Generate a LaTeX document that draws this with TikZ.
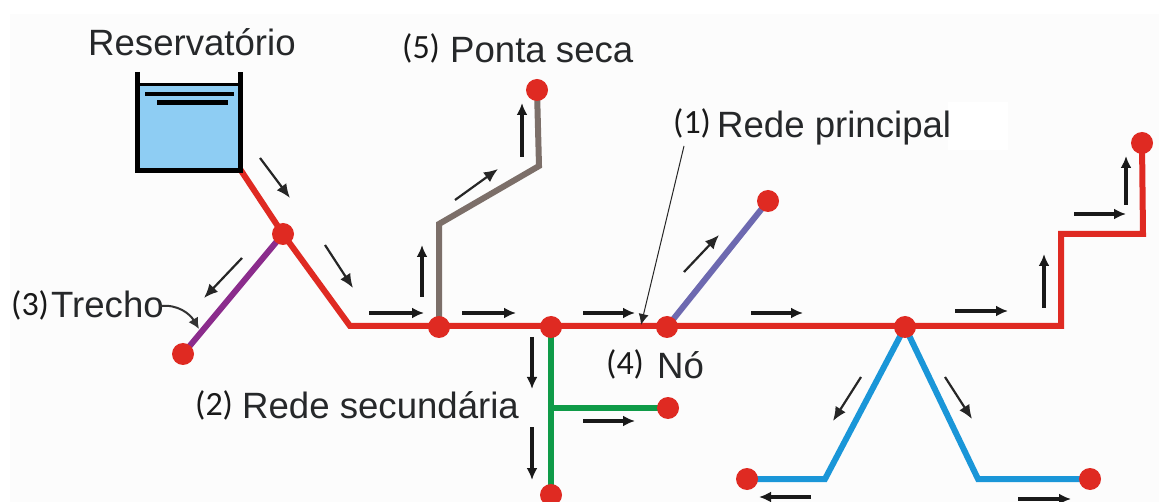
\documentclass[tikz,border=0pt]{standalone}
\usepackage{fontspec}
\usetikzlibrary{arrows.meta}
\usetikzlibrary{backgrounds}
\setmainfont{Liberation Sans}
\newfontfamily\numfont{Carlito}
\definecolor{fundo}{HTML}{FCFCFC}
\definecolor{agua}{HTML}{8ECDF3}
\definecolor{vermelho}{HTML}{DF2A22}
\definecolor{roxo}{HTML}{8B2C8C}
\definecolor{cinza}{HTML}{7C6F69}
\definecolor{violeta}{HTML}{6D69B0}
\definecolor{verde}{HTML}{0F9B48}
\definecolor{azul}{HTML}{1A96D8}
\definecolor{texto}{HTML}{26282A}
\tikzset{
    pto/.style={circle,fill=vermelho,inner sep=0pt,minimum size=22pt},
    rede/.style={line width=6pt,line join=miter},
    fluxo/.style={-{Latex[length=12pt,width=11pt]},line width=3.6pt,color=black!90},
    fluxofino/.style={-{Latex[length=14pt,width=12pt]},line width=2.2pt,color=black!85},
    rotulo/.style={color=texto,inner sep=0pt,anchor=base west,font=\fontsize{36.6}{40}\selectfont},
    numero/.style={color=black!90,inner sep=0pt,anchor=base west,font=\numfont\fontsize{34}{38}\selectfont}
}
\begin{document}
\begin{tikzpicture}[x=1pt,y=-1pt]
    \useasboundingbox (0,0) rectangle (1159,502);

    \node[pto] (n1) at (283,234) {};
    \node[pto] (n2) at (439,327) {};
    \node[pto] (n3) at (551,327) {};
    \node[pto] (n4) at (667,327) {};
    \node[pto] (n5) at (905,327) {};
    \node[pto] (e1) at (183,354) {};
    \node[pto] (e2) at (537,90) {};
    \node[pto] (e3) at (768,201) {};
    \node[pto] (e4) at (1142,143) {};
    \node[pto] (e5) at (668,408) {};
    \node[pto] (e6) at (551,495) {};
    \node[pto] (e7) at (747,479) {};
    \node[pto] (e8) at (1090,479) {};

    \coordinate (saida) at (240,169);
    \coordinate (c1) at (350,326);
    \coordinate (c2) at (1061,326);
    \coordinate (c3) at (1061,234);
    \coordinate (c4) at (1143,234);
    \coordinate (g1) at (439,224);
    \coordinate (g2) at (539,166);
    \coordinate (t1) at (551,408);
    \coordinate (b1) at (825,479);
    \coordinate (b2) at (978,479);

    \begin{scope}[on background layer]
    \fill[white] (0,0) rectangle (1159,502);
    \fill[fundo] (10,14) rectangle (1159,502);
    \fill[white] (948,102) rectangle (1008,150);
    \draw[rede,color=roxo] (n1.center) -- (e1.center);
    \draw[rede,color=cinza] (n2.center) -- (g1) -- (g2) -- (e2.center);
    \draw[rede,color=violeta] (n4.center) -- (e3.center);
    \draw[rede,color=verde] (n3.center) -- (e6.center);
    \draw[rede,color=verde] (t1) -- (e5.center);
    \draw[rede,color=azul] (n5.center) -- (b1) -- (e7.center);
    \draw[rede,color=azul] (n5.center) -- (b2) -- (e8.center);
    \draw[rede,color=vermelho] (saida) -- (n1.center) -- (c1) -- (c2) -- (c3) -- (c4) -- (e4.center);
    \end{scope}

    \fill[agua] (137,85) rectangle (240,171);
    \draw[line width=3pt] (137,85) -- (240,85);
    \draw[line width=5pt] (137,72) -- (137,171) -- (240,171) -- (240,72);
    \draw[line width=3.5pt] (145,94) -- (234,94);
    \draw[line width=5pt] (157,103) -- (228,103);

    \coordinate (f1a) at (260,158); \coordinate (f1b) at (290,198);
    \draw[fluxofino] (f1a) -- (f1b);
    \coordinate (f2a) at (325,245); \coordinate (f2b) at (353,288);
    \draw[fluxofino] (f2a) -- (f2b);
    \coordinate (f3a) at (242,258); \coordinate (f3b) at (204,298);
    \draw[fluxofino] (f3a) -- (f3b);
    \coordinate (f4a) at (455,200); \coordinate (f4b) at (498,169);
    \draw[fluxofino] (f4a) -- (f4b);
    \coordinate (f5a) at (684,272); \coordinate (f5b) at (719,235);
    \draw[fluxofino] (f5a) -- (f5b);
    \coordinate (f6a) at (861,377); \coordinate (f6b) at (833,421);
    \draw[fluxofino] (f6a) -- (f6b);
    \coordinate (f7a) at (945,377); \coordinate (f7b) at (972,419);
    \draw[fluxofino] (f7a) -- (f7b);

    \coordinate (f8a) at (369,313); \coordinate (f8b) at (424,313);
    \draw[fluxo] (f8a) -- (f8b);
    \coordinate (f9a) at (462,313); \coordinate (f9b) at (516,313);
    \draw[fluxo] (f9a) -- (f9b);
    \coordinate (f10a) at (583,313); \coordinate (f10b) at (635,313);
    \draw[fluxo] (f10a) -- (f10b);
    \coordinate (f11a) at (751,313); \coordinate (f11b) at (803,313);
    \draw[fluxo] (f11a) -- (f11b);
    \coordinate (f12a) at (955,311); \coordinate (f12b) at (1008,311);
    \draw[fluxo] (f12a) -- (f12b);
    \coordinate (f13a) at (1074,214); \coordinate (f13b) at (1126,214);
    \draw[fluxo] (f13a) -- (f13b);
    \coordinate (f14a) at (1126,205); \coordinate (f14b) at (1126,156);
    \draw[fluxo] (f14a) -- (f14b);
    \coordinate (f15a) at (1044,308); \coordinate (f15b) at (1044,254);
    \draw[fluxo] (f15a) -- (f15b);
    \coordinate (f16a) at (422,297); \coordinate (f16b) at (422,245);
    \draw[fluxo] (f16a) -- (f16b);
    \coordinate (f17a) at (522,157); \coordinate (f17b) at (522,103);
    \draw[fluxo] (f17a) -- (f17b);
    \coordinate (f18a) at (532,337); \coordinate (f18b) at (532,389);
    \draw[fluxo] (f18a) -- (f18b);
    \coordinate (f19a) at (532,427); \coordinate (f19b) at (532,480);
    \draw[fluxo] (f19a) -- (f19b);
    \coordinate (f20a) at (583,421); \coordinate (f20b) at (635,421);
    \draw[fluxo] (f20a) -- (f20b);
    \coordinate (f21a) at (811,497); \coordinate (f21b) at (759,497);
    \draw[fluxo] (f21a) -- (f21b);
    \coordinate (f22a) at (1018,499); \coordinate (f22b) at (1071,499);
    \draw[fluxo] (f22a) -- (f22b);

    \node[rotulo] (reserv) at (88,56) {Reservatório};
    \node[rotulo] (ponta) at (450,63) {Ponta seca};
    \node[rotulo] (principal) at (717,138) {Rede principal};
    \node[rotulo] (trecho) at (51,318) {Trecho};
    \node[rotulo] (secund) at (242,418) {Rede secundária};
    \node[rotulo] (no) at (657,378) {Nó};
    \node[numero] (num5) at (402,59) {(5)};
    \node[numero] (num1) at (673,134) {(1)};
    \node[numero] (num3) at (11,316) {(3)};
    \node[numero] (num2) at (195,415) {(2)};
    \node[numero] (num4) at (606,374) {(4)};

    \coordinate (p1) at (684,146);
    \coordinate (p2) at (641,325);
    \draw[-{Latex[length=11pt,width=10pt]},line width=1pt,color=black!85] (p1) -- (p2);
    \coordinate (q1) at (160,306);
    \coordinate (q2) at (199,329);
    \draw[-{Latex[length=11pt,width=11pt]},line width=2pt,color=black!80] (q1) .. controls (178,304) and (190,314) .. (q2);
\end{tikzpicture}
\end{document}
